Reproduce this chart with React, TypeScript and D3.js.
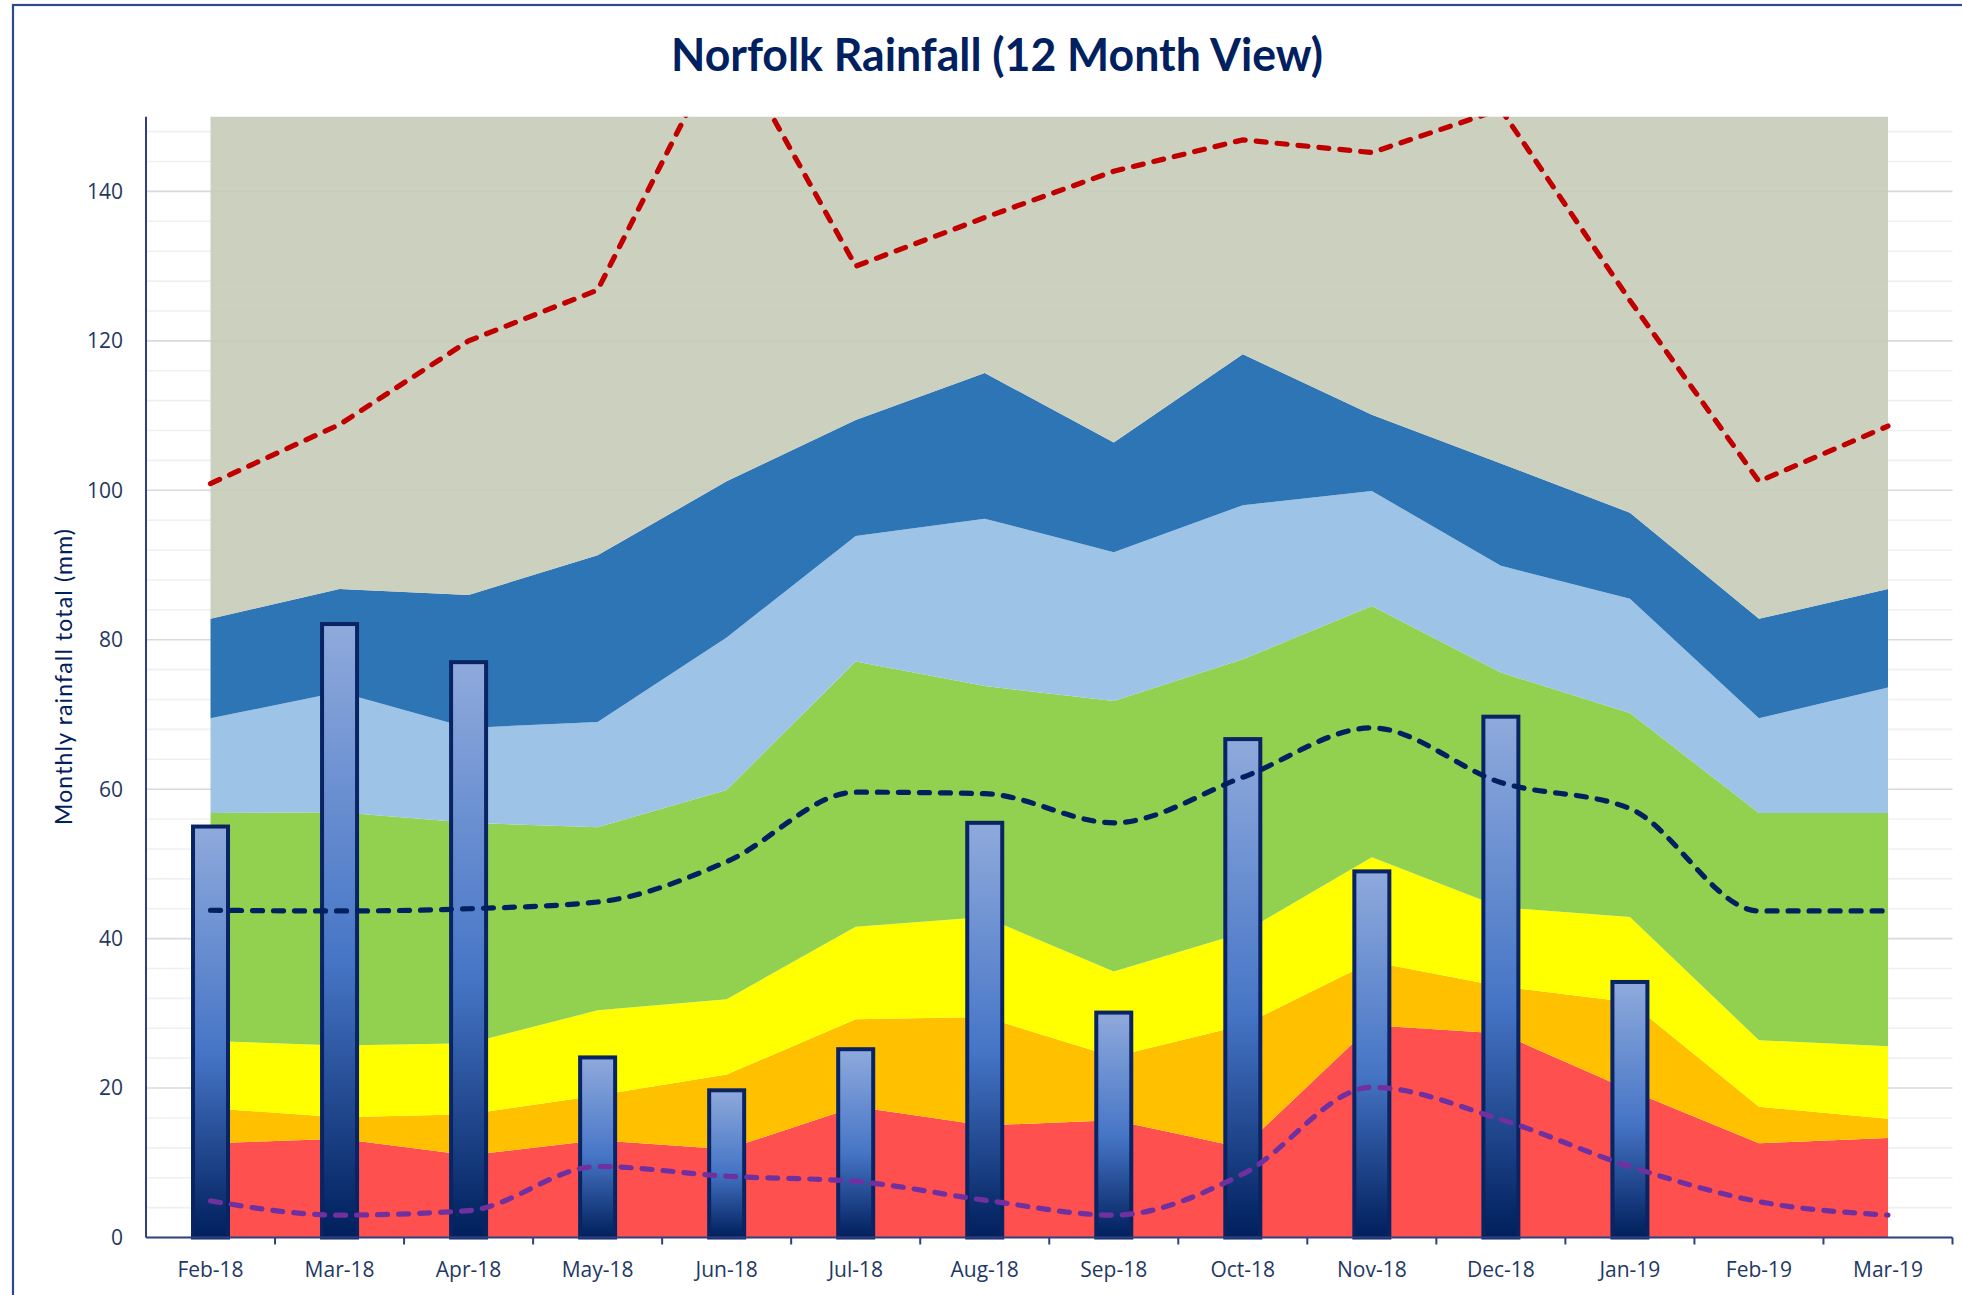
import React from 'react';
import * as d3 from 'd3';

// Month categories along the x axis
const months = [
  'Feb-18', 'Mar-18', 'Apr-18', 'May-18', 'Jun-18', 'Jul-18', 'Aug-18',
  'Sep-18', 'Oct-18', 'Nov-18', 'Dec-18', 'Jan-19', 'Feb-19', 'Mar-19',
];

// Upper edge (mm) of each shaded rainfall band, lowest band first
const bandRed = [12.6, 13.2, 11.0, 13.0, 11.8, 17.5, 15.0, 15.7, 12.0, 28.4, 27.3, 19.7, 12.6, 13.3];
const bandOrange = [17.3, 16.1, 16.5, 19.0, 21.8, 29.2, 29.5, 24.2, 28.4, 36.9, 33.6, 31.5, 17.5, 15.9];
const bandYellow = [26.3, 25.7, 26.0, 30.4, 31.9, 41.6, 42.9, 35.6, 40.8, 50.9, 44.2, 42.9, 26.4, 25.6];
const bandGreen = [56.8, 56.9, 55.5, 54.9, 59.9, 77.1, 73.8, 71.8, 77.4, 84.5, 75.6, 70.2, 56.8, 56.8];
const bandLightBlue = [69.5, 73.0, 68.2, 69.0, 80.3, 93.9, 96.2, 91.7, 98.0, 99.9, 89.9, 85.5, 69.5, 73.6];
const bandDarkBlue = [82.8, 86.8, 86.0, 91.3, 101.2, 109.4, 115.7, 106.4, 118.2, 110.1, 103.6, 97.0, 82.8, 86.8];
const bandGrey = [160, 160, 160, 160, 170, 160, 160, 160, 160, 160, 160, 160, 160, 160];

// Reference lines (mm)
const maxLine = [100.9, 108.8, 120.0, 126.8, 161.0, 130.0, 136.5, 142.7, 146.9, 145.2, 151.0, 125.4, 101.2, 108.6];
const meanLine = [43.8, 43.7, 44.0, 44.9, 50.3, 59.6, 59.4, 55.5, 61.6, 68.2, 60.9, 57.4, 43.7, 43.7];
const minLine = [4.9, 3.0, 3.6, 9.5, 8.2, 7.5, 5.0, 3.0, 8.5, 20.1, 15.8, 9.5, 4.8, 3.0];

// Monthly rainfall totals (mm), Feb-18 to Jan-19
const actualMonths = ['Feb-18', 'Mar-18', 'Apr-18', 'May-18', 'Jun-18', 'Jul-18', 'Aug-18', 'Sep-18', 'Oct-18', 'Nov-18', 'Dec-18', 'Jan-19'];
const actualRain = [55.0, 82.1, 77.0, 24.1, 19.7, 25.2, 55.5, 30.1, 66.7, 49.0, 69.7, 34.2];

// Y axis tick labels
const yTicks = [0, 20, 40, 60, 80, 100, 120, 140];

const bandSeries = [
  { values: bandRed, color: '#ff5050', opacity: 1 },
  { values: bandOrange, color: '#ffc000', opacity: 1 },
  { values: bandYellow, color: '#ffff00', opacity: 1 },
  { values: bandGreen, color: '#92d050', opacity: 1 },
  { values: bandLightBlue, color: '#9dc3e6', opacity: 1 },
  { values: bandDarkBlue, color: '#2e75b6', opacity: 1 },
  { values: bandGrey, color: 'rgb(199,203,184)', opacity: 0.9 },
];

const W = 1962;
const H = 1295;
const plotLeft = 146;
const plotRight = 1952.5;
const plotTop = 116.7;
const plotBottom = 1237.5;

const tickFont = '"Open Sans", "Noto Sans", sans-serif';
const textColor = '#1f3864';

export default function App() {
  const x = d3.scaleBand<string>().domain(months).range([plotLeft, plotRight]).padding(0);
  const cx = (m: string) => (x(m) as number) + x.bandwidth() / 2;
  const y = d3.scaleLinear().domain([0, 150]).range([plotBottom, plotTop]);

  const gridValues = d3.range(4, 150, 4);

  const areaGen = d3
    .area<[number, number, string]>()
    .x((d) => cx(d[2]))
    .y0((d) => y(d[0]))
    .y1((d) => y(d[1]));

  const lineLinear = d3
    .line<[string, number]>()
    .x((d) => cx(d[0]))
    .y((d) => y(d[1]));
  const lineSmooth = d3
    .line<[string, number]>()
    .x((d) => cx(d[0]))
    .y((d) => y(d[1]))
    .curve(d3.curveMonotoneX);

  const barW = 35;
  const boundaries = months.slice(1).map((m) => x(m) as number).concat([plotRight]);

  return (
    <svg
      width={W}
      height={H}
      viewBox={`0 0 ${W} ${H}`}
      style={{ position: 'absolute', left: 0, top: 0, background: '#fff' }}
    >
      <defs>
        <clipPath id="plotClip">
          <rect x={plotLeft} y={plotTop} width={plotRight - plotLeft} height={plotBottom - plotTop} />
        </clipPath>
        <linearGradient id="barGrad" x1="0" y1="0" x2="0" y2="1">
          <stop offset="0" stopColor="#8faadc" />
          <stop offset="0.55" stopColor="#4675c6" />
          <stop offset="1" stopColor="#001f5c" />
        </linearGradient>
      </defs>

      {/* chart frame */}
      <rect x={13} y={5} width={W + 20} height={H + 20} fill="none" stroke="#2f4a87" strokeWidth={2.2} />

      {/* title */}
      <text
        x={997}
        y={71}
        textAnchor="middle"
        fontFamily='Lato, "Noto Sans", sans-serif'
        fontWeight={700}
        fontSize={46}
        fill="#002060"
        textLength={652}
        lengthAdjust="spacingAndGlyphs"
      >
        Norfolk Rainfall (12 Month View)
      </text>

      {/* gridlines */}
      {gridValues.map((v) => (
        <line
          key={v}
          x1={plotLeft}
          x2={plotRight}
          y1={y(v)}
          y2={y(v)}
          stroke={v % 20 === 0 ? '#d9d9d9' : '#f0f0f0'}
          strokeWidth={1.6}
        />
      ))}

      {/* shaded bands */}
      <g clipPath="url(#plotClip)">
        {bandSeries.map((s, i) => {
          const lower = i === 0 ? months.map(() => 0) : bandSeries[i - 1].values;
          const pts = months.map((m, j) => [lower[j], s.values[j], m] as [number, number, string]);
          return <path key={i} d={areaGen(pts) || ''} fill={s.color} fillOpacity={s.opacity} />;
        })}
      </g>

      {/* monthly totals */}
      {actualMonths.map((m, i) => (
        <rect
          key={m}
          x={cx(m) - barW / 2}
          y={y(actualRain[i])}
          width={barW}
          height={plotBottom - y(actualRain[i])}
          fill="url(#barGrad)"
          stroke="#0a2463"
          strokeWidth={4}
        />
      ))}

      {/* reference lines */}
      <g clipPath="url(#plotClip)" fill="none" strokeWidth={5.2} strokeLinecap="round" strokeDasharray="10 11">
        <path d={lineLinear(months.map((m, i) => [m, maxLine[i]] as [string, number])) || ''} stroke="#c00000" />
        <path d={lineSmooth(months.map((m, i) => [m, meanLine[i]] as [string, number])) || ''} stroke="#002060" />
        <path d={lineSmooth(months.map((m, i) => [m, minLine[i]] as [string, number])) || ''} stroke="#7030a0" />
      </g>

      {/* axes */}
      <line x1={plotLeft} x2={plotLeft} y1={plotTop} y2={plotBottom} stroke="#2f3f80" strokeWidth={2} />
      <line x1={plotLeft} x2={plotRight} y1={plotBottom} y2={plotBottom} stroke="#2f3f80" strokeWidth={2} />
      {boundaries.map((bx, i) => (
        <line key={i} x1={bx} x2={bx} y1={plotBottom} y2={plotBottom + 7} stroke="#2f3f80" strokeWidth={2} />
      ))}

      {/* y tick labels */}
      {yTicks.map((t) => (
        <text
          key={t}
          x={123}
          y={y(t)}
          dy="0.35em"
          textAnchor="end"
          fontFamily={tickFont}
          fontSize={21}
          fill={textColor}
        >
          {t}
        </text>
      ))}

      {/* x tick labels */}
      {months.map((m) => (
        <text
          key={m}
          x={cx(m)}
          y={1277}
          textAnchor="middle"
          fontFamily={tickFont}
          fontSize={21}
          fill={textColor}
        >
          {m}
        </text>
      ))}

      {/* y axis title */}
      <text
        transform={`translate(72, 677) rotate(-90)`}
        textAnchor="middle"
        fontFamily='Lato, "Noto Sans", sans-serif'
        fontSize={23}
        fill="#002060"
        textLength={296}
      >
        Monthly rainfall total (mm)
      </text>
    </svg>
  );
}
